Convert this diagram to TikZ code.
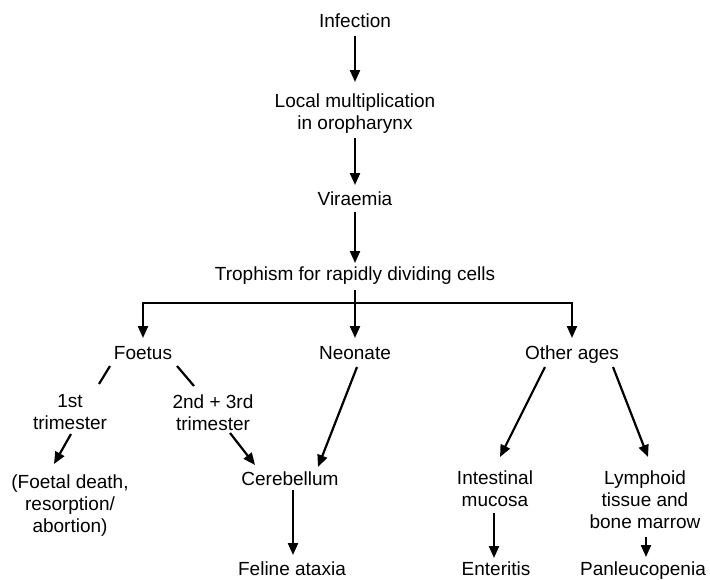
\documentclass[tikz,border=0pt]{standalone}
\usepackage{fontspec}
\setmainfont{Liberation Sans}
\usetikzlibrary{arrows.meta}
\tikzset{
  lbl/.style={anchor=base, inner sep=0pt, align=center, font=\fontsize{19}{22}\selectfont},
  arr/.style={line width=2.2pt, -{Triangle[length=12pt,width=10pt]}},
  ln/.style={line width=2.2pt}
}
\begin{document}
\begin{tikzpicture}[x=1pt,y=-1pt]
\useasboundingbox (0,0) rectangle (710,579);
% nodes (base = baseline of last line)
\node[lbl] (inf) at (355,27) {Infection};
\node[lbl] (loc) at (355,129) {Local multiplication\\in oropharynx};
\node[lbl] (vir) at (355,205) {Viraemia};
\node[lbl] (tro) at (355,280) {Trophism for rapidly dividing cells};
\node[lbl] (foe) at (143,359) {Foetus};
\node[lbl] (neo) at (355,359) {Neonate};
\node[lbl] (oth) at (572,359) {Other ages};
\node[lbl] (first) at (70,429) {1st\\trimester};
\node[lbl] (second) at (213,430) {2nd + 3rd\\trimester};
\node[lbl] (fd) at (70,532) {(Foetal death,\\resorption/\\abortion)};
\node[lbl] (cer) at (290,485) {Cerebellum};
\node[lbl] (int) at (495,506) {Intestinal\\mucosa};
\node[lbl] (lym) at (645,528) {Lymphoid\\tissue and\\bone marrow};
\node[lbl] (fel) at (292,575) {Feline ataxia};
\node[lbl] (ent) at (496,575) {Enteritis};
\node[lbl] (pan) at (643,575) {Panleucopenia};
\coordinate (bar) at (355,303);
% connectors
\draw[arr] ([yshift=-9pt]inf.base) -- ([yshift=47pt]loc.base);
\draw[arr] ([yshift=-9pt]loc.base) -- ([yshift=20pt]vir.base);
\draw[arr] ([yshift=-7pt]vir.base) -- ([yshift=17pt]tro.base);
\draw[arr] ([yshift=-10pt]tro.base) -- ([yshift=21pt]neo.base);
\draw[arr] (bar) -| ([yshift=21pt]foe.base);
\draw[arr] (bar) -| ([yshift=21pt]oth.base);
\draw[ln] ([shift={(-33pt,-7pt)}]foe.base) -- ([shift={(29pt,45pt)}]first.base);
\draw[ln] ([shift={(34pt,-7pt)}]foe.base) -- ([shift={(-19pt,44pt)}]second.base);
\draw[arr] ([shift={(1pt,-5pt)}]first.base) -- ([shift={(-16pt,68pt)}]fd.base);
\draw[arr] ([shift={(17pt,-3pt)}]second.base) -- ([shift={(-35pt,20pt)}]cer.base);
\draw[arr] ([shift={(2pt,-8pt)}]neo.base) -- ([shift={(28pt,18pt)}]cer.base);
\draw[arr] ([shift={(3pt,-5pt)}]cer.base) -- ([shift={(1pt,20pt)}]fel.base);
\draw[arr] ([shift={(-27pt,-8pt)}]oth.base) -- ([shift={(5pt,49pt)}]int.base);
\draw[arr] ([shift={(41pt,-8pt)}]oth.base) -- ([shift={(3pt,71pt)}]lym.base);
\draw[arr] ([shift={(-1pt,-7pt)}]int.base) -- ([shift={(-2pt,17pt)}]ent.base);
\draw[arr] ([shift={(1pt,-9pt)}]lym.base) -- ([shift={(3pt,18pt)}]pan.base);
\end{tikzpicture}
\end{document}
